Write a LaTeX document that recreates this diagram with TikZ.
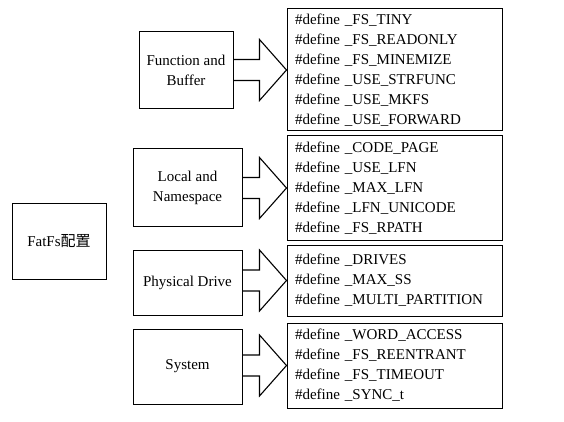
\documentclass[tikz,border=0pt]{standalone}
\usepackage{fontspec}
\setmainfont{Liberation Serif}
\newfontfamily\cjk{Noto Sans CJK SC}
\usetikzlibrary{calc}
\begin{document}
\begin{tikzpicture}[x=1pt,y=-1pt,
  box/.style={draw, line width=1pt, inner sep=0pt, align=center,
    font=\fontsize{15}{20}\selectfont},
  defbox/.style={draw, line width=1pt, inner xsep=8pt, inner ysep=0pt,
    text width=199pt, minimum width=215pt, align=left,
    font=\fontsize{15}{20}\selectfont},
  bigarrow/.style={draw, line width=1.1pt, line join=miter}]
\useasboundingbox (0,0) rectangle (564,422);

% left column
\node[box, minimum width=94pt, minimum height=76pt] (root) at (59,241) {FatFs{\cjk 配置}};

% middle column
\node[box, minimum width=94pt, minimum height=77pt] (FB) at (186,70.5) {Function and\\Buffer};
\node[box, minimum width=109pt, minimum height=77pt] (LN) at (187.5,187.5) {Local and\\Namespace};
\node[box, minimum width=109pt, minimum height=65pt] (PD) at (187.5,282.5) {Physical Drive};
\node[box, minimum width=109pt, minimum height=75pt] (SY) at (187.5,366.5) {System};

% right column
\node[defbox, minimum height=122pt] (D1) at (394.5,70) {%
\#define \_FS\_TINY\\
\#define \_FS\_READONLY\\
\#define \_FS\_MINEMIZE\\
\#define \_USE\_STRFUNC\\
\#define \_USE\_MKFS\\
\#define \_USE\_FORWARD};
\node[defbox, minimum height=104pt] (D2) at (394.5,188) {%
\#define \_CODE\_PAGE\\
\#define \_USE\_LFN\\
\#define \_MAX\_LFN\\
\#define \_LFN\_UNICODE\\
\#define \_FS\_RPATH};
\node[defbox, minimum height=71pt] (D3) at (394.5,280.5) {%
\#define \_DRIVES\\
\#define \_MAX\_SS\\
\#define \_MULTI\_PARTITION};
\node[defbox, minimum height=85pt] (D4) at (394.5,365.5) {%
\#define \_WORD\_ACCESS\\
\#define \_FS\_REENTRANT\\
\#define \_FS\_TIMEOUT\\
\#define \_SYNC\_t};

% block arrows
\foreach \l/\d in {FB/D1, LN/D2, PD/D3, SY/D4} {
  \path (\d.west) ++(-27,-10.5) coordinate (\d s1);
  \path (\d.west) ++(-27,-30.5) coordinate (\d h1);
  \path (\d.west) ++(-27,30.5) coordinate (\d h2);
  \path (\d.west) ++(-27,10.5) coordinate (\d s2);
  \draw[bigarrow] (\l.east |- \d s1) -- (\d s1) -- (\d h1) -- (\d.west)
    -- (\d h2) -- (\d s2) -- (\l.east |- \d s2);
}
\end{tikzpicture}
\end{document}
